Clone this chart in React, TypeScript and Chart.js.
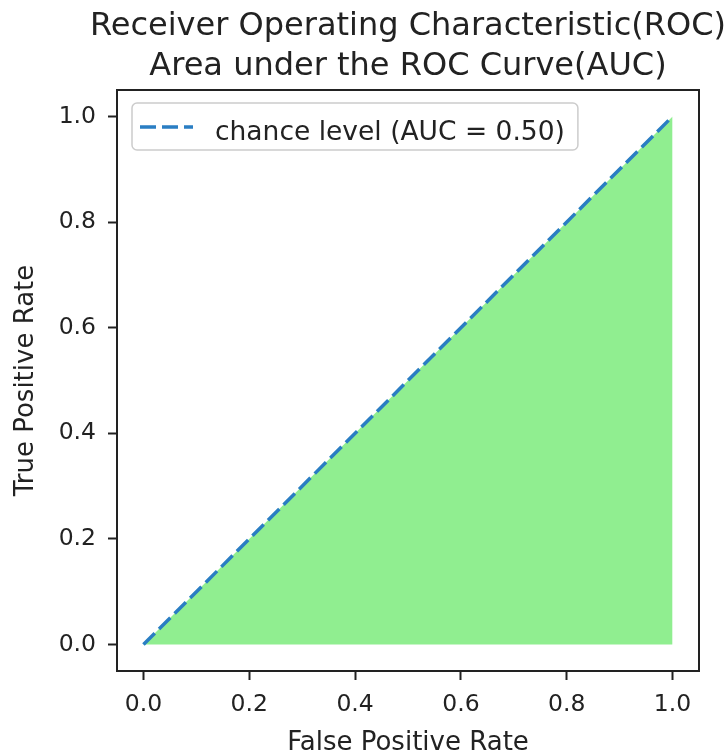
import React, { useEffect, useRef } from 'react';
import { Chart, registerables } from 'chart.js';

Chart.register(...registerables);

// ---- data ----
const FPR = [0, 1];
const TPR = [0, 1];
const TICKS = [0, 0.2, 0.4, 0.6, 0.8, 1.0];
const TITLE_LINES = ['Receiver Operating Characteristic(ROC)', 'Area under the ROC Curve(AUC)'];
const X_LABEL = 'False Positive Rate';
const Y_LABEL = 'True Positive Rate';
const LINE_LABEL = 'chance level (AUC = 0.50)';

const FONT = "'DejaVu Sans', sans-serif";
const INK = '#222222';
const LINE_COLOR = '#2a7ec3';
const FILL_COLOR = '#90ee90';

export default function App() {
  const ref = useRef<HTMLCanvasElement | null>(null);

  useEffect(() => {
    if (!ref.current) return;
    const points = FPR.map((x, i) => ({ x, y: TPR[i] }));

    const framePlugin = {
      id: 'frame',
      afterDraw(chart: any) {
        const { ctx, chartArea } = chart;
        const { left, top, right, bottom } = chartArea;
        ctx.save();
        ctx.strokeStyle = INK;
        ctx.lineWidth = 2;
        ctx.strokeRect(left, top, right - left, bottom - top);
        ctx.restore();
      },
    };

    const titlePlugin = {
      id: 'axesTitle',
      afterDraw(chart: any) {
        const { ctx, chartArea } = chart;
        const cx = (chartArea.left + chartArea.right) / 2;
        ctx.save();
        ctx.font = `32px ${FONT}`;
        ctx.fillStyle = INK;
        ctx.textAlign = 'center';
        ctx.textBaseline = 'alphabetic';
        TITLE_LINES.forEach((line, i) => {
          ctx.fillText(line, cx, chartArea.top - 55 + i * 40);
        });
        ctx.restore();
      },
    };

    const legendPlugin = {
      id: 'innerLegend',
      afterDatasetsDraw(chart: any) {
        const { ctx, chartArea } = chart;
        const ds = chart.data.datasets[0];
        const bx = chartArea.left + 15;
        const by = chartArea.top + 13;
        ctx.save();
        ctx.font = `26.5px ${FONT}`;
        const tw = ctx.measureText(ds.label).width;
        const bw = 83 + tw + 13;
        const bh = 47;
        ctx.beginPath();
        ctx.roundRect(bx, by, bw, bh, 5);
        ctx.fillStyle = 'rgba(255,255,255,0.8)';
        ctx.fill();
        ctx.strokeStyle = '#cccccc';
        ctx.lineWidth = 1.5;
        ctx.stroke();
        ctx.beginPath();
        ctx.setLineDash(ds.borderDash);
        ctx.strokeStyle = ds.borderColor;
        ctx.lineWidth = ds.borderWidth;
        ctx.moveTo(bx + 8, by + 24);
        ctx.lineTo(bx + 61, by + 24);
        ctx.stroke();
        ctx.setLineDash([]);
        ctx.fillStyle = INK;
        ctx.textBaseline = 'alphabetic';
        ctx.textAlign = 'left';
        ctx.fillText(ds.label, bx + 83, by + 37);
        ctx.restore();
      },
    };

    const tickFont = { family: FONT, size: 23.5 };
    const labelFont = { family: FONT, size: 26 };

    const chart = new Chart(ref.current, {
      type: 'line',
      data: {
        datasets: [
          {
            label: LINE_LABEL,
            data: points,
            borderColor: LINE_COLOR,
            borderWidth: 3.5,
            borderDash: [16, 6],
            pointRadius: 0,
            fill: false,
            tension: 0,
          },
          {
            label: 'area',
            data: points,
            borderWidth: 0,
            borderColor: 'rgba(0,0,0,0)',
            backgroundColor: FILL_COLOR,
            pointRadius: 0,
            fill: 'origin',
            tension: 0,
          },
        ],
      },
      options: {
        animation: false,
        responsive: false,
        devicePixelRatio: 1,
        layout: { padding: { left: 0, right: 26, top: 90, bottom: 0 } },
        plugins: {
          legend: { display: false },
          tooltip: { enabled: false },
          title: { display: false },
        },
        scales: {
          x: {
            type: 'linear',
            min: -0.05,
            max: 1.05,
            afterBuildTicks: (s: any) => {
              s.ticks = TICKS.map((v) => ({ value: v }));
            },
            afterFit: (s: any) => {
              s.height = 84;
            },
            ticks: {
              callback: (v: any) => Number(v).toFixed(1),
              font: tickFont,
              color: INK,
              padding: 11,
              maxRotation: 0,
              autoSkip: false,
            },
            grid: {
              drawOnChartArea: false,
              drawTicks: true,
              tickLength: 9,
              tickColor: INK,
              tickWidth: 2,
            },
            border: { display: true, color: INK, width: 2 },
            title: {
              display: true,
              text: X_LABEL,
              color: INK,
              font: { ...labelFont, lineHeight: 0.9 },
              padding: { top: 0, bottom: 0 },
            },
          },
          y: {
            type: 'linear',
            min: -0.05,
            max: 1.05,
            afterBuildTicks: (s: any) => {
              s.ticks = TICKS.map((v) => ({ value: v }));
            },
            afterFit: (s: any) => {
              s.width = 117;
            },
            ticks: {
              callback: (v: any) => Number(v).toFixed(1),
              font: tickFont,
              color: INK,
              padding: 12,
              autoSkip: false,
            },
            grid: {
              drawOnChartArea: false,
              drawTicks: true,
              tickLength: 9,
              tickColor: INK,
              tickWidth: 2,
            },
            border: { display: true, color: INK, width: 2 },
            title: {
              display: true,
              text: Y_LABEL,
              color: INK,
              font: labelFont,
              padding: { top: 11, bottom: 0 },
            },
          },
        },
      },
      plugins: [framePlugin, legendPlugin, titlePlugin],
    } as any);

    return () => chart.destroy();
  }, []);

  return (
    <div style={{ position: 'absolute', left: 0, top: 0, width: 725, height: 755, background: '#ffffff' }}>
      <canvas ref={ref} width={725} height={755} style={{ display: 'block' }} />
    </div>
  );
}
